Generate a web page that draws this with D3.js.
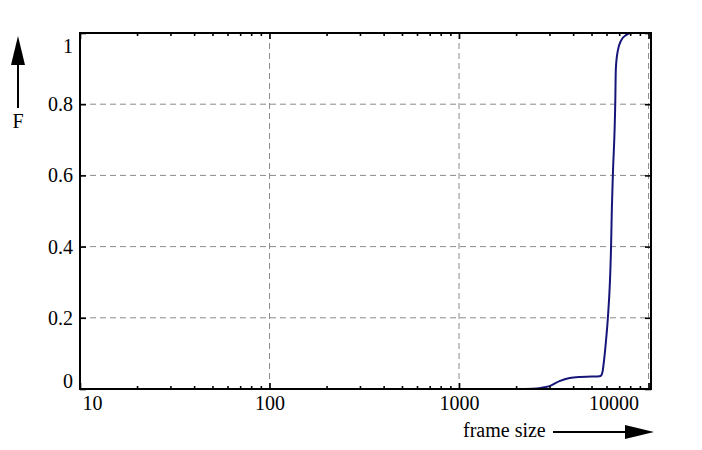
<!DOCTYPE html>
<html>
<head>
<meta charset="utf-8">
<script src="https://cdn.jsdelivr.net/npm/d3@7"></script>
<style>
  body { margin: 0; background: #fff; }
  text { font-family: "Liberation Serif", "DejaVu Serif", serif; font-size: 20px; fill: #000; }
</style>
</head>
<body>
<div id="chart"></div>
<script>
// cumulative distribution of frame size
const frameSize = [850, 2000, 2450, 2700, 3000, 3390, 3830, 4325, 5000, 5510, 5620, 5720,
  5830, 5970, 6100, 6340, 6400, 6480, 6670, 6720, 6880, 7180, 7600, 8100, 8700];
const cdf = [0, 0, 0.001, 0.003, 0.008, 0.022, 0.031, 0.034, 0.035, 0.036, 0.038, 0.049,
  0.083, 0.139, 0.2, 0.4, 0.504, 0.6, 0.8, 0.9, 0.95, 0.98, 0.994, 1.0, 1.0];

const xTicks = [10, 100, 1000, 10000];
const xTickLabels = ["10", "100", "1000", "10000"];
const yTicks = [0, 0.2, 0.4, 0.6, 0.8, 1];
const yTickLabels = ["0", "0.2", "0.4", "0.6", "0.8", "1"];

const width = 702, height = 450;
const pL = 80, pR = 651, pT = 33, pB = 389;

const svg = d3.select("#chart").append("svg")
  .attr("width", width)
  .attr("height", height);

const x = d3.scaleLog().domain([10, 10300]).range([pL, pR]);
const y = d3.scaleLinear().domain([0, 1]).range([pB, pT]);

// minor ticks 2..9 in each decade
const xMinor = [];
xTicks.forEach(d => {
  for (let k = 2; k <= 9; k++) if (d * k <= x.domain()[1]) xMinor.push(d * k);
});

// grid
const grid = svg.append("g")
  .attr("stroke", "#8a8a8a")
  .attr("stroke-width", 1)
  .attr("stroke-dasharray", "6,4");

grid.selectAll("line.h")
  .data(yTicks.slice(1, -1))
  .enter().append("line")
  .attr("x1", pL).attr("x2", pR)
  .attr("y1", d => y(d)).attr("y2", d => y(d));

grid.selectAll("line.v")
  .data(xTicks.slice(1))
  .enter().append("line")
  .attr("x1", d => x(d)).attr("x2", d => x(d))
  .attr("y1", pT).attr("y2", pB);

// curve
const line = d3.line()
  .x((d, i) => x(frameSize[i]))
  .y(d => y(d))
  .curve(d3.curveMonotoneX);

svg.append("path")
  .datum(cdf)
  .attr("fill", "none")
  .attr("stroke", "#16167a")
  .attr("stroke-width", 2)
  .attr("d", line);

// axes: ticks pointing inward
function styleAxis(g) {
  g.select(".domain").remove();
  g.selectAll(".tick line").attr("stroke", "#000").attr("stroke-width", 1.6);
}

svg.append("g")
  .attr("transform", `translate(0,${pB})`)
  .call(d3.axisBottom(x).tickValues(xMinor).tickSize(-3).tickFormat(""))
  .call(styleAxis);
svg.append("g")
  .attr("transform", `translate(0,${pT})`)
  .call(d3.axisTop(x).tickValues(xMinor).tickSize(-3).tickFormat(""))
  .call(styleAxis);
svg.append("g")
  .attr("transform", `translate(0,${pT})`)
  .call(d3.axisTop(x).tickValues(xTicks).tickSize(-6).tickFormat(""))
  .call(styleAxis);

const xAxis = svg.append("g")
  .attr("transform", `translate(0,${pB})`)
  .call(d3.axisBottom(x).tickValues(xTicks).tickSize(-6).tickPadding(7)
    .tickFormat((d, i) => xTickLabels[i]))
  .call(styleAxis);
xAxis.attr("font-size", null).attr("font-family", null);
xAxis.selectAll(".tick text")
  .attr("dx", (d, i) => i === 0 ? 12 : (i === xTicks.length - 1 ? -35 : 0));

const yAxis = svg.append("g")
  .attr("transform", `translate(${pL},0)`)
  .call(d3.axisLeft(y).tickValues(yTicks).tickSize(-6).tickPadding(7)
    .tickFormat((d, i) => yTickLabels[i]))
  .call(styleAxis);
yAxis.attr("font-size", null).attr("font-family", null);
yAxis.selectAll(".tick text")
  .attr("dy", (d, i) => i === 0 ? "-0.1em" : (i === yTicks.length - 1 ? "0.95em" : "0.32em"));

svg.append("g")
  .attr("transform", `translate(${pR},0)`)
  .call(d3.axisRight(y).tickValues(yTicks).tickSize(-6).tickFormat(""))
  .call(styleAxis);

// frame
svg.append("rect")
  .attr("x", pL).attr("y", pT)
  .attr("width", pR - pL).attr("height", pB - pT)
  .attr("fill", "none")
  .attr("stroke", "#000")
  .attr("stroke-width", 2);

// axis labels with arrows
svg.append("text")
  .attr("x", 463).attr("y", 437)
  .text("frame size");
svg.append("line")
  .attr("x1", 553).attr("x2", 627)
  .attr("y1", 432).attr("y2", 432)
  .attr("stroke", "#000").attr("stroke-width", 2);
svg.append("path")
  .attr("d", "M625,425 L654,432 L625,439 Z")
  .attr("fill", "#000");

svg.append("text")
  .attr("x", 18).attr("y", 128)
  .attr("text-anchor", "middle")
  .text("F");
svg.append("line")
  .attr("x1", 18).attr("x2", 18)
  .attr("y1", 108).attr("y2", 62)
  .attr("stroke", "#000").attr("stroke-width", 2);
svg.append("path")
  .attr("d", "M11,65 L18,36 L25,65 Z")
  .attr("fill", "#000");
</script>
</body>
</html>
